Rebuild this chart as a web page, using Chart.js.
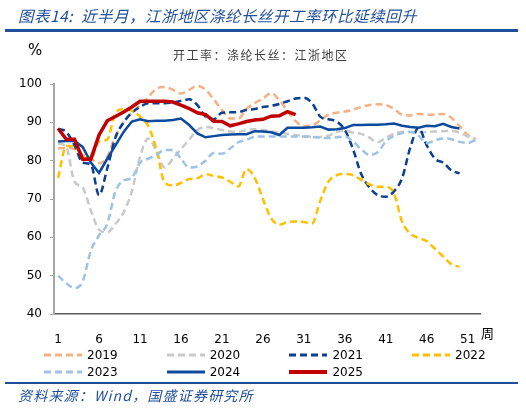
<!DOCTYPE html>
<html>
<head>
<meta charset="utf-8">
<script src="https://cdn.jsdelivr.net/npm/chart.js@4.4.1/dist/chart.umd.min.js"></script>
<style>
  html, body { margin: 0; padding: 0; background: #fff; }
  #wrap { position: relative; width: 526px; height: 409px; overflow: hidden; font-family: "DejaVu Sans", sans-serif; }
  #mycanvas { position: absolute; left: 0; top: 0; }
  .abs { position: absolute; white-space: nowrap; }
  #title { left: 18px; top: 6px; font: italic 15.5px "Noto Sans CJK SC"; color: #1F4E9A; line-height: 18px; letter-spacing: 0.5px; }
  #rule1 { left: 5px; top: 29px; width: 513px; height: 2.5px; background: #1F4E9A; }
  #pct { left: 28px; top: 41px; font: 15px "DejaVu Sans"; color: #000; }
  #sub { left: 173px; top: 46px; font: 12px "Noto Sans CJK SC"; color: #404040; letter-spacing: 1.5px; }
  #zhou { left: 481px; top: 323px; font: 13px "Noto Sans CJK SC"; color: #000; }
  #legend { left: 0; top: 347px; width: 526px; height: 34px; }
  .item { position: absolute; height: 17px; font: 12px "DejaVu Sans"; color: #000; line-height: 17px; }
  .item svg { position: absolute; left: 0; top: 3px; }
  .item span { position: absolute; left: 44px; top: 0; }
  #rule2 { left: 5px; top: 382px; width: 513px; height: 1.5px; background: #1F4E9A; }
  #src { left: 18px; top: 386px; font: italic 14px "Noto Sans CJK SC"; color: #1F4E9A; line-height: 18px; letter-spacing: 1.2px; }
</style>
</head>
<body>
<div id="wrap">
  <canvas id="mycanvas" width="526" height="409"></canvas>
  <div class="abs" id="title">图表14:&nbsp; 近半月，江浙地区涤纶长丝开工率环比延续回升</div>
  <div class="abs" id="rule1"></div>
  <div class="abs" id="pct">%</div>
  <div class="abs" id="sub">开工率：涤纶长丝：江浙地区</div>
  <div class="abs" id="zhou">周</div>
  <div class="abs" id="legend"></div>
  <div class="abs" id="rule2"></div>
  <div class="abs" id="src">资料来源：Wind，国盛证券研究所</div>
</div>
<script>
// weeks 1..52
var weeks = [];
for (var w = 1; w <= 52; w++) weeks.push(String(w));

var yTicks = [40, 50, 60, 70, 80, 90, 100];

var s2019 = [83.2, 83.3, 83.0, 81.5, 80.5, 79.3, 81.0, 86.5, 90.0, 92.5,
             94.5, 96.5, 98.8, 99.2, 98.5, 97.5, 98.5, 99.5, 98.5, 96.0,
             93.2, 91.0, 91.0, 93.5, 95.0, 96.2, 97.6, 95.8, 93.0, 90.3,
             89.0, 89.2, 90.5, 92.0, 92.5, 92.8, 93.3, 94.0, 94.5, 94.7,
             94.5, 93.5, 92.0, 91.8, 92.2, 92.0, 92.0, 92.2, 91.2, 89.0,
             86.7, 85.5];
var s2020 = [84.5, 83.5, 74.5, 73.0, 67.0, 62.0, 61.3, 63.5, 66.5, 72.0,
             81.0, 85.8, 82.5, 78.2, 80.5, 83.0, 85.5, 88.0, 88.8, 88.5,
             88.0, 87.6, 87.5, 88.0, 88.2, 88.0, 87.6, 87.3, 87.0, 86.7,
             86.4, 86.2, 86.2, 86.5, 87.5, 87.8, 87.3, 87.0, 86.0, 84.8,
             86.0, 87.0, 87.5, 87.5, 87.5, 87.5, 87.6, 87.7, 87.8, 87.3,
             86.3, 85.6];
var s2021 = [88.3, 87.5, 84.0, 79.5, 79.0, 71.0, 78.0, 86.0, 90.0, 92.5,
             94.0, 95.0, 95.0, 95.0, 95.2, 95.6, 96.0, 94.5, 91.5, 90.8,
             92.5, 92.6, 92.7, 93.2, 93.5, 94.0, 94.3, 94.8, 95.5, 96.2,
             96.4, 95.0, 91.5, 90.8, 90.2, 88.0, 83.0, 76.5, 73.0, 71.0,
             70.6, 72.0, 75.5, 83.5, 88.5, 84.0, 80.5, 79.5, 77.5, 76.7];
var s2022 = [75.5, 83.8, 83.7, 81.0, 80.5, 85.0, 85.5, 92.5, 93.5, 93.0,
             91.5, 89.0, 83.0, 74.3, 73.5, 74.2, 75.2, 75.4, 76.5, 76.0,
             75.6, 74.5, 73.3, 77.8, 75.5, 70.0, 65.0, 63.3, 64.0, 64.1,
             64.0, 63.6, 69.5, 74.5, 76.2, 76.5, 76.2, 75.0, 73.8, 73.2,
             73.2, 71.5, 64.0, 61.0, 59.8, 59.0, 57.0, 55.0, 53.0, 52.3];
var s2023 = [50.0, 48.0, 46.8, 48.5, 56.5, 60.5, 63.5, 72.0, 74.8, 75.5,
             79.5, 80.5, 81.5, 82.8, 82.8, 80.5, 78.2, 78.5, 80.0, 82.0,
             81.8, 83.2, 84.8, 85.5, 86.2, 86.3, 86.3, 86.3, 86.3, 86.3,
             86.3, 86.2, 86.0, 85.9, 86.1, 86.3, 85.0, 83.0, 81.5, 82.2,
             85.0, 86.5, 87.2, 87.5, 86.5, 84.6, 85.3, 85.8, 85.6, 84.9,
             84.6, 85.4];
var s2024 = [85.0, 85.1, 85.1, 83.6, 79.5, 76.8, 80.5, 84.0, 87.5, 90.2,
             90.8, 90.3, 90.4, 90.4, 90.6, 91.0, 89.3, 87.1, 86.1, 86.4,
             86.7, 86.8, 86.9, 86.9, 87.7, 87.6, 87.4, 86.7, 88.6, 88.6,
             88.6, 88.7, 88.9, 88.1, 88.2, 88.5, 89.3, 89.3, 89.4, 89.4,
             89.5, 89.7, 89.1, 88.8, 88.6, 89.1, 89.0, 89.6, 88.8, 88.4];
var s2025 = [88.4, 85.6, 85.6, 80.4, 80.4, 86.7, 90.4, 91.5, 92.7, 94.0,
             95.5, 95.5, 95.5, 95.5, 95.3, 94.5, 93.6, 92.5, 92.0, 90.3,
             90.2, 89.1, 89.6, 90.2, 90.6, 90.8, 91.6, 91.7, 92.8, 92.0];

var dash = [7, 4];

function line(label, data, color, width, borderDash, tension) {
    return {
        label: label,
        data: data,
        borderColor: color,
        backgroundColor: color,
        borderWidth: width,
        borderDash: borderDash,
        pointRadius: 0,
        pointHoverRadius: 0,
        fill: false,
        tension: tension,
        cubicInterpolationMode: tension > 0 ? 'monotone' : 'default'
    };
}

var datasets = [
    line('2019', s2019, '#F4B183', 2.5, dash, 0.4),
    line('2020', s2020, '#C9C9C9', 2.5, dash, 0.4),
    line('2021', s2021, '#0B3F91', 2.5, dash, 0.4),
    line('2022', s2022, '#FFC000', 2.5, dash, 0.4),
    line('2023', s2023, '#9DC3E6', 2.5, dash, 0.4),
    line('2024', s2024, '#0B4A9E', 2.5, [], 0),
    line('2025', s2025, '#C00000', 3.5, [], 0)
];
// draw order: 2025 on top
datasets.forEach(function (d, i) { d.order = datasets.length - i; });

var ctx = document.getElementById('mycanvas');

var chart = new Chart(ctx, {
    type: 'line',
    data: { labels: weeks, datasets: datasets },
    options: {
        responsive: false,
        animation: false,
        devicePixelRatio: 1,
        layout: { padding: { top: 84, right: 46, bottom: 55, left: 0 } },
        plugins: {
            legend: { display: false },
            tooltip: { enabled: false }
        },
        scales: {
            x: {
                offset: true,
                grid: { display: false },
                border: { color: '#595959', width: 1.5 },
                ticks: {
                    autoSkip: false,
                    maxRotation: 0,
                    padding: 11,
                    color: '#000',
                    font: { family: 'DejaVu Sans', size: 12 },
                    callback: function (v, i) { return i % 5 === 0 ? weeks[i] : ''; }
                },
                afterFit: function (s) { s.height = 40; }
            },
            y: {
                min: yTicks[0],
                max: yTicks[yTicks.length - 1],
                afterBuildTicks: function (s) {
                    s.ticks = yTicks.map(function (v) { return { value: v }; });
                },
                grid: { display: true, drawOnChartArea: false, tickLength: 4, color: '#A6A6A6' },
                border: { color: '#A6A6A6', width: 2 },
                ticks: {
                    padding: 8,
                    color: '#000',
                    font: { family: 'DejaVu Sans', size: 12 }
                },
                afterFit: function (s) { s.width = 54; }
            }
        }
    }
});

// legend built from the chart's datasets, 4 per row
var legend = document.getElementById('legend');
chart.data.datasets.forEach(function (d, i) {
    var col = i % 4, row = Math.floor(i / 4);
    var item = document.createElement('div');
    item.className = 'item';
    item.style.left = (43 + col * 122.7) + 'px';
    item.style.top = (row * 17) + 'px';
    var da = d.borderDash && d.borderDash.length ? d.borderDash.join(',') : 'none';
    item.innerHTML = '<svg width="40" height="10"><line x1="1" y1="5" x2="39" y2="5" stroke="' +
        d.borderColor + '" stroke-width="' + (d.borderWidth + 0.5) + '" stroke-dasharray="' + da + '"/></svg>' +
        '<span>' + d.label + '</span>';
    legend.appendChild(item);
});
</script>
</body>
</html>
